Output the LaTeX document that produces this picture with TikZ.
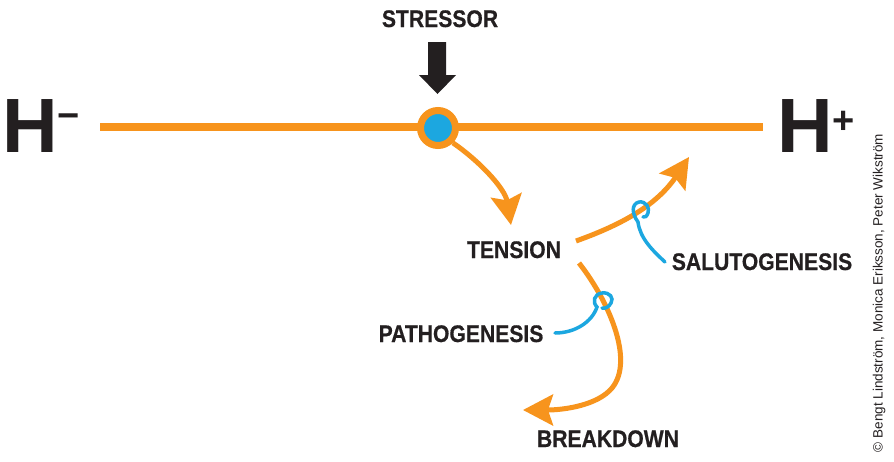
\documentclass[tikz,border=0pt]{standalone}
\usepackage{fontspec}
\setmainfont{Liberation Sans}
\newfontfamily\labfont[FakeStretch=0.88,FakeBold=0.6]{Liberation Sans}
\usetikzlibrary{arrows.meta}
\definecolor{hOrange}{HTML}{F7941D}
\definecolor{hBlue}{HTML}{1CA7E0}
\definecolor{hDark}{HTML}{231F20}
\newcommand{\hsign}[2]{\raisebox{#1}{\fontsize{38}{38}\selectfont #2}}
\tikzset{
  lab/.style={inner sep=0pt, anchor=base, text=hDark, font=\labfont\bfseries\fontsize{24}{24}\selectfont},
  bigH/.style={inner sep=0pt, anchor=base west, text=hDark, font=\bfseries\fontsize{77}{77}\selectfont},
  oarrow/.style={draw=hOrange, line width=5pt, -{Stealth[length=30pt,width=31pt,inset=5pt]}},
  hook/.style={draw=hBlue, line width=3.5pt, line cap=round},
}
\begin{document}
\begin{tikzpicture}[x=1pt,y=-1pt]
\useasboundingbox[fill=white] (0,0) rectangle (894,461);
% H labels
\node[bigH] (hm) at (2,152) {H\hsign{24pt}{−}};
\node[bigH] (hp) at (777,152) {H\hsign{19pt}{+}};
% main line
\coordinate (lstart) at (100,127);
\coordinate (lend) at (763,127);
\draw[hOrange, line width=7.5pt] (lstart) -- (lend);
% stressor
\node[lab] (stressor) at (440,27) {STRESSOR};
\fill[hDark] (428,42) -- (446,42) -- (446,75) -- (456,75) -- (437.5,94) -- (419,75) -- (428,75) -- cycle;
\node[circle, minimum size=35pt, inner sep=0pt, draw=hOrange, line width=7pt, fill=hBlue] (pt) at (438,128) {};
% tension
\node[lab] (tension) at (514,258) {TENSION};
\coordinate (a1end) at (511,225);
\draw[oarrow] (pt.-45) .. controls (478,160) and (505,188) .. (a1end);
% salutogenesis
\coordinate (a2start) at (576,241);
\coordinate (a2end) at (689,157);
\draw[oarrow] (a2start) .. controls (615,227) and (655,208) .. (a2end);
\node[lab] (saluto) at (762,270) {SALUTOGENESIS};
\draw[hook] (665,262) .. controls (652,250) and (640,238) .. (638,222)
  .. controls (632,214) and (631,204) .. (639,202)
  .. controls (646,201) and (650,208) .. (648,213)
  .. controls (647,216) and (645,218) .. (643,217);
% pathogenesis / breakdown
\coordinate (a3start) at (579,263);
\coordinate (a3end) at (523,410);
\draw[oarrow] (a3start) .. controls (608,300) and (635,360) .. (612,388)
  .. controls (598,405) and (565,410) .. (a3end);
\node[lab] (patho) at (461,342) {PATHOGENESIS};
\draw[hook] (555,333) .. controls (575,333) and (592,322) .. (597,307)
  .. controls (592,302) and (594,294) .. (602,293)
  .. controls (610,292) and (614,298) .. (611,303)
  .. controls (609,307) and (605,309) .. (602,308);
\node[lab] (breakdown) at (608,447) {BREAKDOWN};
% copyright
\node[rotate=90, inner sep=0pt, text=hDark, font=\fontsize{13.5}{13.5}\selectfont] (copy) at (879,293) {© Bengt Lindström, Monica Eriksson, Peter Wikström};
\end{tikzpicture}
\end{document}
